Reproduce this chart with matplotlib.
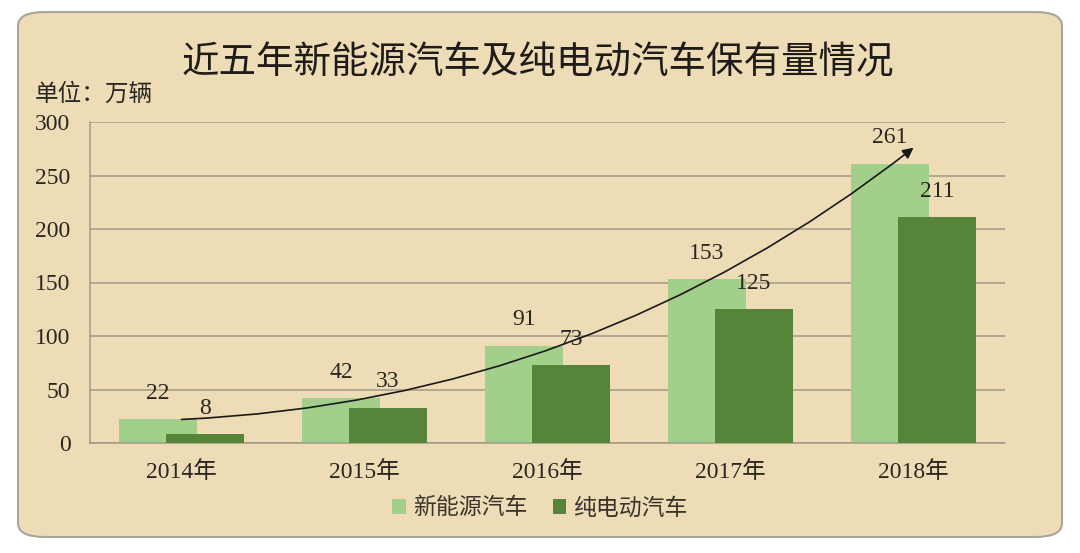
import matplotlib.pyplot as plt
import numpy as np
from matplotlib.patches import FancyBboxPatch

# chart data
years = ["2014年", "2015年", "2016年", "2017年", "2018年"]
new_energy = [22, 42, 91, 153, 261]
pure_electric = [8, 33, 73, 125, 211]
y_ticks = [0, 50, 100, 150, 200, 250, 300]

TITLE = "近五年新能源汽车及纯电动汽车保有量情况"
UNIT = "单位：万辆"
SERIES = ["新能源汽车", "纯电动汽车"]

LIGHT = "#a2cf8a"
DARK = "#56853a"
PAPER = "#eddcb6"
TEXT = "#2b2620"

CJK = ["Noto Sans CJK SC", "DejaVu Sans"]
SERIF = ["Liberation Serif", "Noto Sans CJK SC"]

fig = plt.figure(figsize=(10.8, 5.53), dpi=100)
fig.patch.set_facecolor("white")

# rounded parchment frame, kept behind the axes
frame = FancyBboxPatch((18 / 1080, 16 / 553), 1044 / 1080, 525 / 553,
                       boxstyle="round,pad=0,rounding_size=0.025",
                       transform=fig.transFigure, facecolor=PAPER,
                       edgecolor="#a9a49a", linewidth=1.5, zorder=-10)
fig.patches.append(frame)

ax = fig.add_axes([90 / 1080, 1 - 443 / 553, 915 / 1080, 321 / 553])
ax.set_facecolor("none")

x = np.arange(len(years))
width = 0.43
offset = 0.128

b1 = ax.bar(x - offset, new_energy, width, color=LIGHT, zorder=2, label=SERIES[0])
b2 = ax.bar(x + offset, pure_electric, width, color=DARK, zorder=3, label=SERIES[1])

for bars, vals in ((b1, new_energy), (b2, pure_electric)):
    for rect, v in zip(bars, vals):
        ax.annotate(str(v), (rect.get_x() + rect.get_width() / 2, v),
                    xytext=(0, 11), textcoords="offset points",
                    ha="center", va="bottom", fontsize=17,
                    family=SERIF, color=TEXT, zorder=5)

# growth trend arrow
ax.annotate("", xy=(x[-1], new_energy[-1] + 15), xytext=(x[0], new_energy[0]),
            arrowprops=dict(arrowstyle="-|>", color="#1a1a1a", lw=1.2,
                            connectionstyle="arc3,rad=0.16",
                            mutation_scale=16, shrinkA=0, shrinkB=0),
            zorder=6)

ax.set_xlim(-0.5, len(years) - 0.5)
ax.set_ylim(0, 300)
ax.set_yticks(y_ticks)
ax.set_xticks(x)
ax.set_xticklabels(years)
ax.yaxis.grid(True, color="#a19a88", linewidth=1.1, zorder=1)
ax.set_axisbelow(True)
ax.tick_params(axis="both", length=0, labelsize=17, colors=TEXT)
ax.tick_params(axis="x", pad=13)
ax.tick_params(axis="y", pad=14)
for lab in ax.get_xticklabels() + ax.get_yticklabels():
    lab.set_family(SERIF)

for side in ("top", "right"):
    ax.spines[side].set_visible(False)
for side in ("left", "bottom"):
    ax.spines[side].set_color("#a19a88")
    ax.spines[side].set_linewidth(1.1)

fig.text(538 / 1080, 1 - 63 / 553, TITLE, ha="center", va="center",
         fontsize=27, family=CJK, weight="medium", color="#1e1b18")
fig.text(35 / 1080, 1 - 94 / 553, UNIT, ha="left", va="center",
         fontsize=17, family=CJK, color=TEXT)

leg = fig.legend(handles=[b1, b2], labels=SERIES, loc="center",
                 bbox_to_anchor=(0.5, 1 - 508 / 553), ncol=2, frameon=False,
                 handlelength=0.6, handleheight=0.6, handletextpad=0.3,
                 columnspacing=1.1, prop={"family": CJK, "size": 16.5})
for t in leg.get_texts():
    t.set_color("#3a342c")

fig.savefig("out.png", dpi=100, facecolor=fig.get_facecolor())
